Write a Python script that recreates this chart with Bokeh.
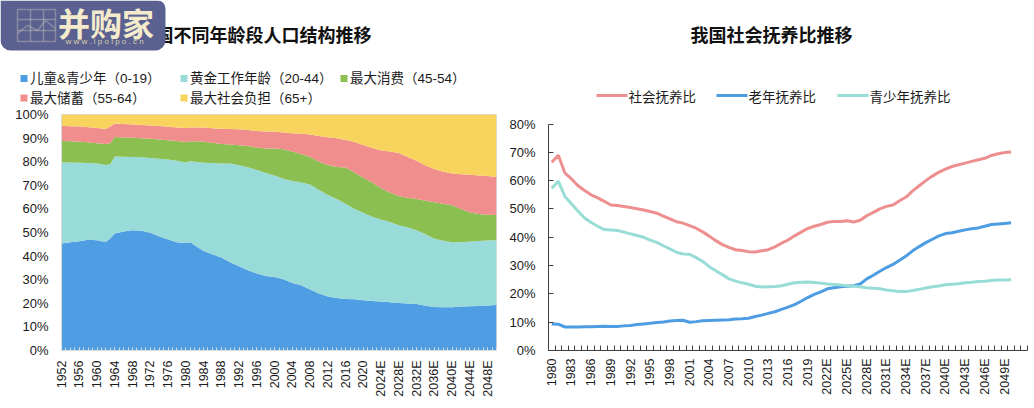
from math import pi
from bokeh.embed import file_html
from bokeh.resources import INLINE
from bokeh.layouts import column, row
from bokeh.models import (BoxAnnotation, FixedTicker, Label, PolyAnnotation,
                          PrintfTickFormatter, Range1d)
from bokeh.plotting import figure

# ---------- left chart data (cumulative boundaries, %) ----------
share_years = [1952, 1954, 1956, 1958, 1960, 1961, 1962, 1963, 1964, 1966, 1968, 1970, 1972, 1974, 1976,
               1978, 1980, 1981, 1982] + list(range(1984, 2051, 2))
top_children = [45.3, 45.9, 46.3, 46.9, 46.7, 46.3, 46.1, 47.5, 49.6, 50.4, 51, 50.7, 49.9, 48.4, 47, 45.9, 45.5, 45.9, 44.6,
                42.2, 40.8, 39.4, 37.4, 35.7, 34, 32.6, 31.6, 31.1,
                30.2, 28.6, 27.6, 25.9, 24.1, 22.9, 22.2, 21.8, 21.7, 21.3,
                21, 20.8, 20.4, 20.1, 19.9, 19.7, 19, 18.4, 18.3, 18.3, 18.6, 18.7, 18.9, 19.1, 19.3]
top_golden = [79.7, 79.7, 79.6, 79.5, 79.2, 78.9, 78.6, 78.9, 82.2, 82.1, 82, 81.9, 81.6, 81.3, 80.9, 80.4, 79.7, 80.2, 80,
              79.6, 79.4, 79.2, 79.2, 78.5, 77.6, 76.5, 75.2, 74.1,
              72.8, 71.8, 71.2, 70.3, 68, 65.9, 64.2, 62.2, 60, 58.4,
              56.7, 55.5, 54.4, 53.1, 52.1, 51, 49.3, 47.4, 46.5, 45.9, 45.9, 46.2, 46.4, 46.6, 46.7]
top_consume = [88.8, 88.7, 88.5, 88.2, 87.8, 87.7, 87.5, 87.8, 90.5, 90.3, 90.1, 89.9, 89.7, 89.4, 89.1, 88.8, 88.4, 88.7, 88.7,
               88.5, 88, 87.5, 87.3, 87, 86.6, 86, 85.6, 85.6,
               85.3, 84.3, 83.3, 82, 80, 78.6, 77.8, 77.5, 75.4, 73.2,
               71.2, 68.7, 67, 65.4, 64.7, 64.2, 63.5, 62.8, 62.2, 61.5, 60, 58.5, 57.8, 57.5, 57.4]
top_savings = [95.2, 95, 94.9, 94.6, 94.3, 94.1, 93.9, 94.9, 96.2, 96, 95.8, 95.5, 95.3, 95.1, 94.8, 94.5, 94.3, 94.5, 94.5,
               94.5, 94.2, 94, 93.9, 93.8, 93.4, 93, 92.8, 92.7,
               92.4, 92.1, 91.8, 91.5, 90.9, 90.4, 89.9, 89.2, 88.4, 87.1,
               85.8, 84.7, 84.3, 83.7, 82, 80.4, 78.4, 76.9, 75.7, 75, 74.7, 74.5, 74.2, 73.9, 73.5]
top_all = [100] * len(share_years)
bottom_all = [0] * len(share_years)
band_names = ["儿童&青少年（0-19）", "黄金工作年龄（20-44）", "最大消费（45-54）", "最大储蓄（55-64）", "最大社会负担（65+）"]
band_colors = ["#4F9DE3", "#98DBD8", "#8BBF51", "#F08D8D", "#F8D45F"]

# ---------- right chart data (%) ----------
ratio_years = list(range(1980, 2051))
ratio_total = [66.5, 69, 62.7, 60.6, 58.2, 56.5, 55, 53.9, 52.7, 51.4,
               51.2, 50.9, 50.5, 50.1, 49.6, 49.1, 48.5, 47.5, 46.5, 45.5,
               45, 44.1, 43.2, 41.9, 40.4, 38.8, 37.4, 36.4, 35.6, 35.3,
               34.9, 34.8, 35.2, 35.6, 36.6, 37.9, 39, 40.5, 41.8, 43.1,
               43.9, 44.5, 45.3, 45.6, 45.6, 45.8, 45.4, 46, 47.6, 48.8,
               50, 50.9, 51.4, 52.9, 54.2, 56.4, 58.2, 60, 61.6, 63,
               64.1, 65, 65.6, 66.2, 66.8, 67.4, 67.9, 68.9, 69.5, 69.9, 70.1]
ratio_old = [9.4, 9.3, 8.3, 8.3, 8.3, 8.4, 8.4, 8.5, 8.6, 8.5,
             8.5, 8.7, 8.8, 9.2, 9.4, 9.6, 9.9, 10.1, 10.4, 10.6,
             10.7, 10, 10.2, 10.5, 10.6, 10.7, 10.8, 10.9, 11.1, 11.2,
             11.4, 12, 12.5, 13.1, 13.7, 14.5, 15.3, 16.2, 17.4, 18.7,
             19.8, 20.7, 21.8, 22.2, 22.5, 22.7, 22.9, 23.5, 25.3, 26.6,
             28, 29.3, 30.4, 31.9, 33.4, 35.2, 36.7, 38.1, 39.3, 40.5,
             41.3, 41.6, 42.1, 42.6, 43, 43.3, 43.9, 44.5, 44.7, 44.9, 45.1]
ratio_young = [57.3, 59.8, 54.4, 51.8, 49.2, 46.8, 45.2, 43.9, 42.7, 42.6,
               42.4, 41.8, 41.2, 40.6, 40, 39, 38.2, 37, 35.9, 34.7,
               34.1, 34, 32.8, 31.5, 29.6, 28.2, 26.8, 25.3, 24.5, 23.9,
               23.4, 22.7, 22.4, 22.5, 22.6, 22.9, 23.4, 23.9, 24.1, 24.2,
               24, 23.8, 23.5, 23.3, 23.1, 22.9, 22.7, 22.5, 22.2, 22,
               21.8, 21.4, 21.1, 20.8, 20.8, 21.2, 21.6, 22.1, 22.5, 22.8,
               23.2, 23.4, 23.6, 23.9, 24.1, 24.4, 24.5, 24.7, 24.9, 24.9, 25]
line_names = ["社会抚养比", "老年抚养比", "青少年抚养比"]
line_colors = ["#EE8F8F", "#4E9DE3", "#98DCD6"]

assert all(len(s) == len(share_years) for s in (top_children, top_golden, top_consume, top_savings))
assert all(len(s) == len(ratio_years) for s in (ratio_total, ratio_old, ratio_young))

FONT = '"Liberation Sans", "Noto Sans CJK SC", sans-serif'
TITLE_FONT = '"Noto Sans CJK SC", sans-serif'
TEXT = "#1a1a1a"

# ---------- header strip: titles, legends, logo (data units = page pixels) ----------
HEADER_H = 105
head = figure(width=1034, height=HEADER_H, output_backend="svg", toolbar_location=None,
              x_range=Range1d(0, 1034), y_range=Range1d(HEADER_H, 0),
              x_axis_location=None, y_axis_location=None,
              min_border_left=0, min_border_right=0, min_border_top=0, min_border_bottom=0)
head.grid.visible = False
head.outline_line_color = None


def put_label(x, y, text, font=FONT, size="13px", style="normal", color=TEXT, align="left"):
    head.add_layout(Label(x=x, y=y, text=text, text_align=align, text_baseline="middle", text_font=font,
                          text_font_size=size, text_font_style=style, text_color=color))


def put_box(x0, x1, y0, y1, color, radius=0):
    head.add_layout(BoxAnnotation(left=x0, right=x1, top=y0, bottom=y1, fill_color=color, fill_alpha=1,
                                  line_color=None, border_radius=radius))


legend_slots = [(20, 78), (180, 78), (340, 78), (20, 97.5), (180, 97.5)]
for (lx, ly), name, color in zip(legend_slots, band_names, band_colors):
    put_box(lx, lx + 7, ly - 3.5, ly + 3.5, color)
    put_label(lx + 9.5, ly, name, size="13.5px")
for lx, name, color in zip([596, 716, 837], line_names, line_colors):
    put_box(lx, lx + 31, 93.5, 96.5, color)
    put_label(lx + 32, 95, name, font=TITLE_FONT, size="13.5px")

put_label(254, 33, "我国不同年龄段人口结构推移", font=TITLE_FONT, size="18px", style="bold", color="#111111", align="center")
put_label(771, 33, "我国社会抚养比推移", font=TITLE_FONT, size="18px", style="bold", color="#111111", align="center")

LOGO_LINE = "#F3EBCB"
put_box(0, 165, 0, 50, "#5A6090", radius=(0, 8, 10, 10))
logo_paths = [([17, 55, 55, 17], [9, 9, 41, 41]), ([30, 30], [9, 41]), ([43, 43], [9, 41]),
              ([17, 55], [19, 19]), ([17, 55], [30, 30]),
              ([17, 27, 37, 45, 55, 45, 37, 27], [33, 25, 30, 20, 28, 20, 30, 25])]
for xs, ys in logo_paths:
    head.add_layout(PolyAnnotation(xs=xs, ys=ys, fill_alpha=0, line_color=LOGO_LINE, line_width=1.5))
put_label(105.5, 21, "并购家", font=TITLE_FONT, size="32px", style="bold", color=LOGO_LINE, align="center")
put_label(104, 41, "w w w . i p o i p o . c n", size="8px", color="#D8CFA8", align="center")

# ---------- left figure ----------
p1 = figure(width=505, height=303, output_backend="svg", toolbar_location=None,
            x_range=Range1d(1952, 2050), y_range=Range1d(0, 100),
            frame_width=435, frame_height=236, min_border_left=61, min_border_right=9,
            min_border_top=9, min_border_bottom=58)
p1.grid.visible = False
p1.outline_line_color = "#DCDCDC"
bounds = [bottom_all, top_children, top_golden, top_consume, top_savings, top_all]
for i, color in enumerate(band_colors):
    p1.varea(share_years, bounds[i], bounds[i + 1], fill_color=color)

ax = p1.xaxis[0]
ax.ticker = FixedTicker(ticks=list(range(1952, 2050, 4)), minor_ticks=list(range(1952, 2051)))
ax.major_label_overrides = {y: (f"{y}E" if y >= 2024 else str(y)) for y in range(1952, 2050, 4)}
ax.major_label_orientation = pi / 2
ay = p1.yaxis[0]
ay.ticker = FixedTicker(ticks=list(range(0, 101, 10)))
ay.formatter = PrintfTickFormatter(format="%d%%")
ay.major_tick_in = ay.major_tick_out = 0
ay.minor_tick_in = ay.minor_tick_out = 0
ax.major_tick_in = 3
ax.major_tick_out = 0
ax.minor_tick_in = 3
ax.minor_tick_out = 0
for a in (ax, ay):
    a.axis_line_color = "#DCDCDC"
    a.major_tick_line_color = "#DCDCDC"
    a.minor_tick_line_color = "#DCDCDC"
    a.major_label_text_font = FONT
    a.major_label_text_color = TEXT
ax.major_label_text_font_size = "12.5px"
ay.major_label_text_font_size = "13px"
ax.major_label_standoff = 10
ay.major_label_standoff = 13

# ---------- right figure ----------
p2 = figure(width=529, height=303, output_backend="svg", toolbar_location=None,
            x_range=Range1d(1979.5, 2052.5), y_range=Range1d(0, 83.36),
            frame_width=479, frame_height=236, min_border_left=43, min_border_right=7,
            min_border_top=9, min_border_bottom=58)
p2.grid.visible = False
p2.outline_line_color = None
for color, vals in zip(line_colors, [ratio_total, ratio_old, ratio_young]):
    p2.line(ratio_years, vals, line_color=color, line_width=3)

bx = p2.xaxis[0]
label_years = list(range(1980, 2051, 3))
bx.ticker = FixedTicker(ticks=label_years, minor_ticks=[y - 0.5 for y in range(1980, 2054)])
bx.major_label_overrides = {y: (f"{y}E" if y >= 2022 else str(y)) for y in label_years}
bx.major_label_orientation = pi / 2
bx.major_tick_in = bx.major_tick_out = 0
bx.minor_tick_in = 5
bx.minor_tick_out = 0
by = p2.yaxis[0]
by.ticker = FixedTicker(ticks=list(range(0, 81, 10)))
by.bounds = (0, 80)
by.formatter = PrintfTickFormatter(format="%d%%")
by.major_tick_in = 5
by.major_tick_out = 0
by.minor_tick_in = by.minor_tick_out = 0
for a in (bx, by):
    a.axis_line_color = "#404040"
    a.major_tick_line_color = "#404040"
    a.minor_tick_line_color = "#404040"
    a.major_label_text_font = FONT
    a.major_label_text_color = TEXT
bx.major_label_text_font_size = "12.5px"
by.major_label_text_font_size = "13px"
bx.major_label_standoff = 8
by.major_label_standoff = 13

page = column(head, row(p1, p2), spacing=0)
open("out.html", "w").write(file_html(page, INLINE))
